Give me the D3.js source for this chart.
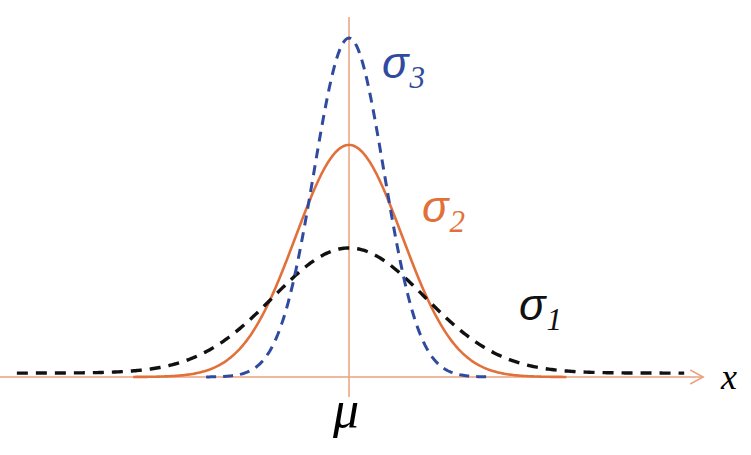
<!DOCTYPE html>
<html>
<head>
<meta charset="utf-8">
<script src="https://cdn.jsdelivr.net/npm/d3@7"></script>
<style>
  body { margin: 0; background: #fff; }
  svg { display: block; }
</style>
</head>
<body>
<div id="chart"></div>
<script>
// curve parameters (mean at 0, x in units of sigma1)
const names = ["σ1", "σ2", "σ3"];
const sigmas = [1.0, 0.70, 0.46];
const peaks = [0.385, 0.714, 1.043];
const bases = [0.012, 0, 0];
const starts = [-4.37, -2.84, -1.88];
const ends = [4.42, 2.87, 1.86];
const colors = ["#111111", "#E2703A", "#2F4A9F"];
const dashes = ["11,8", null, "10,7"];

const width = 751;
const height = 455;

const svg = d3.select("#chart")
    .append("svg")
    .attr("width", width)
    .attr("height", height);

const x = d3.scaleLinear().domain([-4.592, 5.289]).range([0, width]);
const y = d3.scaleLinear().domain([0, 1.16]).range([377, 0]);

const axisColor = "#E9A27E";
const xEnd = 4.66;

// axes
svg.append("line")
    .attr("x1", 0).attr("x2", x(xEnd))
    .attr("y1", y(0)).attr("y2", y(0))
    .attr("stroke", axisColor).attr("stroke-width", 1.5);

svg.append("path")
    .attr("d", `M${x(xEnd) - 13},${y(0) - 7} L${x(xEnd)},${y(0)} L${x(xEnd) - 13},${y(0) + 7}`)
    .attr("fill", "none")
    .attr("stroke", axisColor).attr("stroke-width", 1.5);

svg.append("line")
    .attr("x1", x(0)).attr("x2", x(0))
    .attr("y1", 17).attr("y2", 397)
    .attr("stroke", axisColor).attr("stroke-width", 1.5);

// gaussian curves
const line = d3.line()
    .x(d => x(d[0]))
    .y(d => y(d[1]));

// draw order: orange under the dashed ones
[1, 0, 2].forEach(i => {
    const pts = d3.range(starts[i], ends[i] + 0.001, 0.02)
        .map(t => [t, bases[i] + peaks[i] * Math.exp(-t * t / (2 * sigmas[i] * sigmas[i]))]);
    svg.append("path")
        .datum(pts)
        .attr("d", line)
        .attr("fill", "none")
        .attr("stroke", colors[i])
        .attr("stroke-width", i === 0 ? 3.4 : (i === 1 ? 2.6 : 3))
        .attr("stroke-dasharray", dashes[i]);
});

// labels
const labelPos = [[519, 320], [422, 222], [382, 78]];
labelPos.forEach((p, i) => {
    const t = svg.append("text")
        .attr("x", p[0]).attr("y", p[1])
        .attr("fill", colors[i])
        .style("font-family", "'Liberation Sans', sans-serif")
        .style("font-style", "italic")
        .style("font-size", "44px");
    t.append("tspan").text(names[i].charAt(0));
    t.append("tspan")
        .attr("dy", 10)
        .attr("dx", 1)
        .style("font-family", "'Liberation Serif', serif")
        .style("font-size", "31px")
        .text(names[i].slice(1));
});

svg.append("text")
    .attr("x", x(0) - 3).attr("y", 427)
    .attr("text-anchor", "middle")
    .style("font-family", "'Liberation Serif', serif")
    .style("font-style", "italic")
    .style("font-size", "52px")
    .text("μ");

svg.append("text")
    .attr("x", 721).attr("y", 389)
    .style("font-family", "'Liberation Serif', serif")
    .style("font-style", "italic")
    .style("font-size", "36px")
    .text("x");
</script>
</body>
</html>
